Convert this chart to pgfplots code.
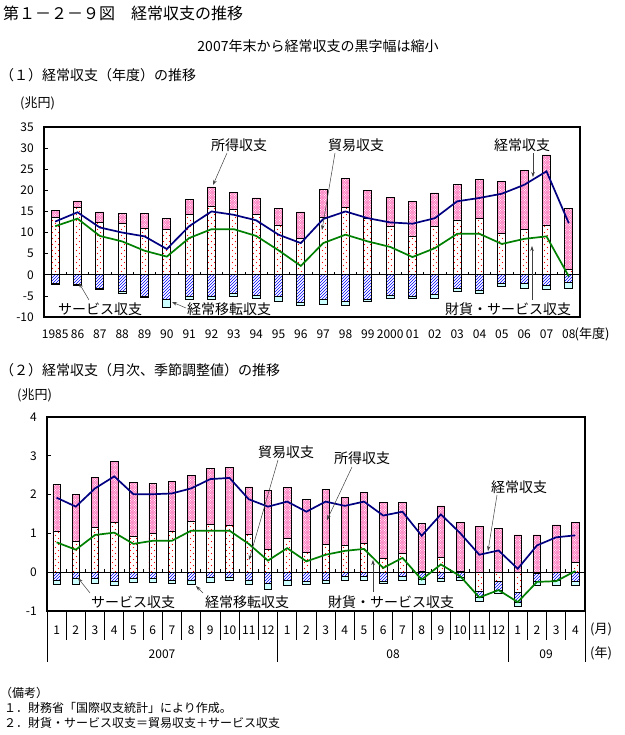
\documentclass[border=0pt]{standalone}
\usepackage{pgfplots}
\pgfplotsset{compat=1.18}
\usepackage{pgfplotstable}
\usepackage{fontspec}
\setmainfont{Noto Sans CJK JP}
\usetikzlibrary{patterns,arrows.meta}

\definecolor{incpink}{RGB}{255,120,190}
\definecolor{trcyan}{RGB}{204,255,255}
\definecolor{canavy}{RGB}{0,0,128}
\definecolor{gsgreen}{RGB}{0,128,0}

\pgfdeclarepatternformonly{reddots}{\pgfqpoint{-1pt}{-1pt}}{\pgfqpoint{7pt}{7pt}}{\pgfqpoint{6pt}{6pt}}{%
  \pgfpathcircle{\pgfqpoint{1.5pt}{1.5pt}}{0.7pt}%
  \pgfpathcircle{\pgfqpoint{4.5pt}{4.5pt}}{0.7pt}%
  \pgfusepath{fill}}
\pgfdeclarepatternformonly{whitedots}{\pgfqpoint{-1pt}{-1pt}}{\pgfqpoint{3.5pt}{3.5pt}}{\pgfqpoint{2.5pt}{2.5pt}}{%
  \pgfpathcircle{\pgfqpoint{0.6pt}{0.6pt}}{0.55pt}%
  \pgfpathcircle{\pgfqpoint{1.85pt}{1.85pt}}{0.55pt}%
  \pgfusepath{fill}}

\pgfplotsset{
  bbase/.style={ybar, bar shift=0pt, draw=black, line width=0.7pt},
  incbar/.style={bbase, preaction={fill=incpink}, pattern=whitedots, pattern color=white},
  trdbar/.style={bbase, preaction={fill=white}, pattern=reddots, pattern color=red},
  svcbar/.style={bbase, preaction={fill=white}, pattern=north east lines, pattern color=blue},
  trnbar/.style={bbase, fill=trcyan},
  myax/.style={scale only axis, anchor=south west, axis line style={line width=1.7pt},
    tick align=inside, ytick pos=left, major tick length=4pt,
    ytick style={black, line width=0.7pt}, xtick style={draw=none},
    tick label style={font=\fontsize{12}{12}\selectfont},
    /pgf/number format/assume math mode=true,
    yticklabel style={anchor=east, inner sep=0pt, xshift=-10pt},
    xticklabel style={anchor=center, inner sep=0pt},
    clip=false},
}

\pgfplotstableread{
x pos trade svc trn ca gs
0 15.2 13.6 -2.0 -2.2 12.6 11.5
1 17.5 15.9 -2.3 -2.6 14.8 13.3
2 14.9 12.5 -3.2 -3.5 11.2 9.2
3 14.6 12.1 -4.0 -4.3 10.0 7.9
4 14.6 11.1 -5.1 -5.4 9.1 5.7
5 13.4 10.7 -5.9 -7.7 6.1 4.3
6 17.8 14.2 -5.2 -5.8 11.5 8.7
7 20.8 16.2 -5.0 -5.8 15.0 10.8
8 19.6 15.6 -4.5 -5.0 14.2 10.8
9 18.2 14.2 -4.9 -5.5 12.9 9.2
10 15.8 11.6 -5.1 -6.2 9.5 5.8
11 14.9 8.7 -6.6 -7.3 7.5 2.1
12 20.3 13.6 -5.9 -6.9 13.2 7.5
13 22.9 15.9 -6.3 -7.3 15.0 9.5
14 20.0 13.4 -5.8 -6.4 13.4 7.9
15 18.4 11.5 -4.9 -5.5 12.4 6.6
16 17.4 9.1 -5.0 -5.6 12.1 4.2
17 19.4 11.5 -4.6 -5.5 13.4 6.3
18 21.3 13.0 -3.2 -3.9 17.4 9.7
19 22.5 13.4 -3.8 -4.3 18.2 9.7
20 22.1 9.7 -2.1 -2.8 19.2 7.3
21 24.7 10.7 -2.0 -3.2 21.3 8.5
22 28.4 11.8 -2.4 -3.4 24.5 9.1
23 15.8 1.2 -1.7 -3.2 12.2 -0.4
}\annual

\pgfplotstableread{
x pos trade svc trn ca gs
0 2.26 1.05 -0.21 -0.31 1.92 0.77
1 2.00 0.79 -0.17 -0.31 1.69 0.58
2 2.44 1.16 -0.17 -0.29 2.16 0.96
3 2.86 1.28 -0.23 -0.34 2.47 1.02
4 2.31 0.92 -0.17 -0.27 2.01 0.73
5 2.29 1.01 -0.17 -0.27 2.01 0.81
6 2.35 1.05 -0.20 -0.30 2.03 0.81
7 2.50 1.30 -0.21 -0.31 2.16 1.07
8 2.67 1.24 -0.14 -0.27 2.40 1.07
9 2.70 1.20 -0.14 -0.21 2.43 1.07
10 2.20 0.98 -0.21 -0.31 1.88 0.73
11 2.11 0.58 -0.29 -0.43 1.69 0.30
12 2.18 0.88 -0.21 -0.34 1.82 0.62
13 1.88 0.51 -0.23 -0.31 1.56 0.28
14 2.14 0.71 -0.21 -0.28 1.82 0.45
15 1.93 0.70 -0.10 -0.20 1.71 0.55
16 2.05 0.75 -0.10 -0.20 1.82 0.60
17 1.80 0.35 -0.23 -0.28 1.46 0.11
18 1.80 0.49 -0.10 -0.20 1.56 0.37
19 1.26 0.02 -0.19 -0.31 0.94 -0.19
20 1.71 0.38 -0.15 -0.23 1.49 0.20
21 1.28 0.03 -0.14 -0.20 1.01 -0.10
22 1.18 -0.49 -0.65 -0.74 0.45 -0.65
23 1.12 -0.23 -0.46 -0.54 0.56 -0.46
24 0.96 -0.53 -0.77 -0.87 0.09 -0.77
25 0.96 -0.03 -0.23 -0.34 0.69 -0.25
26 1.22 0.00 -0.20 -0.34 0.90 -0.23
27 1.28 0.26 -0.23 -0.34 0.95 0.03
}\monthly

\begin{document}
\begin{tikzpicture}
\begin{scope}[x=1pt,y=-1pt]
\path[use as bounding box] (0,0) rectangle (624,735);
\end{scope}

% ---------- Panel 1 ----------
\begin{axis}[myax, at={(44pt,-317pt)}, width=536pt, height=190pt,
  xmin=-0.5, xmax=23.5, ymin=-10, ymax=35, ytick={-10,-5,...,35},
  xtick={0,...,23},
  xticklabels={1985,86,87,88,89,90,91,92,93,94,95,96,97,98,99,2000,01,02,03,04,05,06,07,08},
  xticklabel style={yshift=-17pt},
  bar width=8pt]
\addplot[incbar] table[x=x,y=pos]{\annual};
\addplot[trnbar] table[x=x,y=trn]{\annual};
\addplot[svcbar] table[x=x,y=svc]{\annual};
\addplot[trdbar] table[x=x,y=trade]{\annual};
\draw[black, line width=0.7pt] (axis cs:-0.5,0) -- (axis cs:23.5,0);
\pgfplotsinvokeforeach{0.5,1.5,...,22.5}{\draw[black, line width=0.7pt] (axis cs:#1,0) -- ++(0pt,3pt);}
\addplot[canavy, line width=1.7pt, mark=none] table[x=x,y=ca]{\annual};
\addplot[gsgreen, line width=1.7pt, mark=none] table[x=x,y=gs]{\annual};
\end{axis}

% ---------- Panel 2 ----------
\begin{axis}[myax, at={(47pt,-611pt)}, width=538pt, height=194pt,
  xmin=-0.5, xmax=27.5, ymin=-1, ymax=4, ytick={-1,0,...,4},
  xtick={0,...,27},
  xticklabels={1,2,3,4,5,6,7,8,9,10,11,12,1,2,3,4,5,6,7,8,9,10,11,12,1,2,3,4},
  xticklabel style={yshift=-19pt},
  bar width=7.5pt]
\addplot[incbar] table[x=x,y=pos]{\monthly};
\addplot[trnbar] table[x=x,y=trn]{\monthly};
\addplot[svcbar] table[x=x,y=svc]{\monthly};
\addplot[trdbar] table[x=x,y=trade]{\monthly};
\draw[black, line width=0.7pt] (axis cs:-0.5,0) -- (axis cs:27.5,0);
\pgfplotsinvokeforeach{0.5,1.5,...,26.5}{\draw[black, line width=0.7pt] (axis cs:#1,0) -- ++(0pt,3pt);}
\pgfplotsinvokeforeach{0.5,1.5,...,10.5,12.5,13.5,...,22.5,24.5,25.5,26.5}{\draw[black, line width=0.8pt] (axis cs:#1,-1) -- ++(0pt,-29pt);}
\pgfplotsinvokeforeach{-0.5,11.5,23.5,27.5}{\draw[black, line width=0.8pt] (axis cs:#1,-1) -- ++(0pt,-51pt);}
\addplot[canavy, line width=1.7pt, mark=none] table[x=x,y=ca]{\monthly};
\addplot[gsgreen, line width=1.7pt, mark=none] table[x=x,y=gs]{\monthly};
\end{axis}

\begin{scope}[x=1pt,y=-1pt]
% headings
\node[anchor=west, inner sep=0pt, font=\fontsize{16}{16}\selectfont] at (3,13) {第１－２－９図　経常収支の推移};
\node[inner sep=0pt, font=\fontsize{14}{14}\selectfont] at (318,46) {2007年末から経常収支の黒字幅は縮小};
\node[anchor=west, inner sep=0pt, font=\fontsize{14}{14}\selectfont] at (0,75) {（１）経常収支（年度）の推移};
\node[anchor=west, inner sep=0pt, font=\fontsize{13}{13}\selectfont] at (20,103) {(兆円)};
\node[inner sep=0pt, font=\fontsize{13}{13}\selectfont] at (592,334) {(年度)};
\node[anchor=west, inner sep=0pt, font=\fontsize{14}{14}\selectfont] at (0,370) {（２）経常収支（月次、季節調整値）の推移};
\node[anchor=west, inner sep=0pt, font=\fontsize{13}{13}\selectfont] at (17,395) {(兆円)};
% panel 2 year labels
\node[inner sep=0pt, font=\fontsize{12}{12}\selectfont] at (162,654) {2007};
\node[inner sep=0pt, font=\fontsize{12}{12}\selectfont] at (393,654) {08};
\node[inner sep=0pt, font=\fontsize{12}{12}\selectfont] at (546,654) {09};
\node[inner sep=0pt, font=\fontsize{13}{13}\selectfont] at (601,629) {(月)};
\node[inner sep=0pt, font=\fontsize{13}{13}\selectfont] at (601,653) {(年)};
% notes
\node[anchor=west, inner sep=0pt, font=\fontsize{12}{12}\selectfont] at (0,693) {（備考）};
\node[anchor=west, inner sep=0pt, font=\fontsize{12}{12}\selectfont] at (4,708) {１．財務省「国際収支統計」により作成。};
\node[anchor=west, inner sep=0pt, font=\fontsize{12}{12}\selectfont] at (4,723) {２．財貨・サービス収支＝貿易収支＋サービス収支};

% annotations
\begin{scope}[font=\fontsize{14}{14}\selectfont, every node/.style={inner sep=0pt}]
\node at (239,145) {所得収支};
\node at (356,145) {貿易収支};
\node at (522,145) {経常収支};
\node[fill=white, inner sep=1pt] at (100,309) {サービス収支};
\node[fill=white, inner sep=1pt] at (229,309) {経常移転収支};
\node[fill=white, inner sep=1pt] at (508,309) {財貨・サービス収支};
\node at (286,452) {貿易収支};
\node at (362,458) {所得収支};
\node at (519,487) {経常収支};
\node at (133,602) {サービス収支};
\node at (247,602) {経常移転収支};
\node at (391,602) {財貨・サービス収支};
\end{scope}
\begin{scope}[line width=0.5pt, -{Stealth[length=5pt,width=3.5pt]}, black!75]
\draw (227,153) -- (213,185);
\draw (335,153) -- (322,230);
\draw (533,153) -- (533,177);
\draw (89,300) -- (79,283);
\draw (186,308) -- (172,302);
\draw (532,300) -- (532,246);
\draw (278,460) -- (249,560);
\draw (352,467) -- (327,520);
\draw (497,495) -- (488,551);
\draw (90,593) -- (78,578);
\draw (203,593) -- (196,586);
\draw (373,592) -- (373,560);
\end{scope}
\end{scope}
\end{tikzpicture}
\end{document}
